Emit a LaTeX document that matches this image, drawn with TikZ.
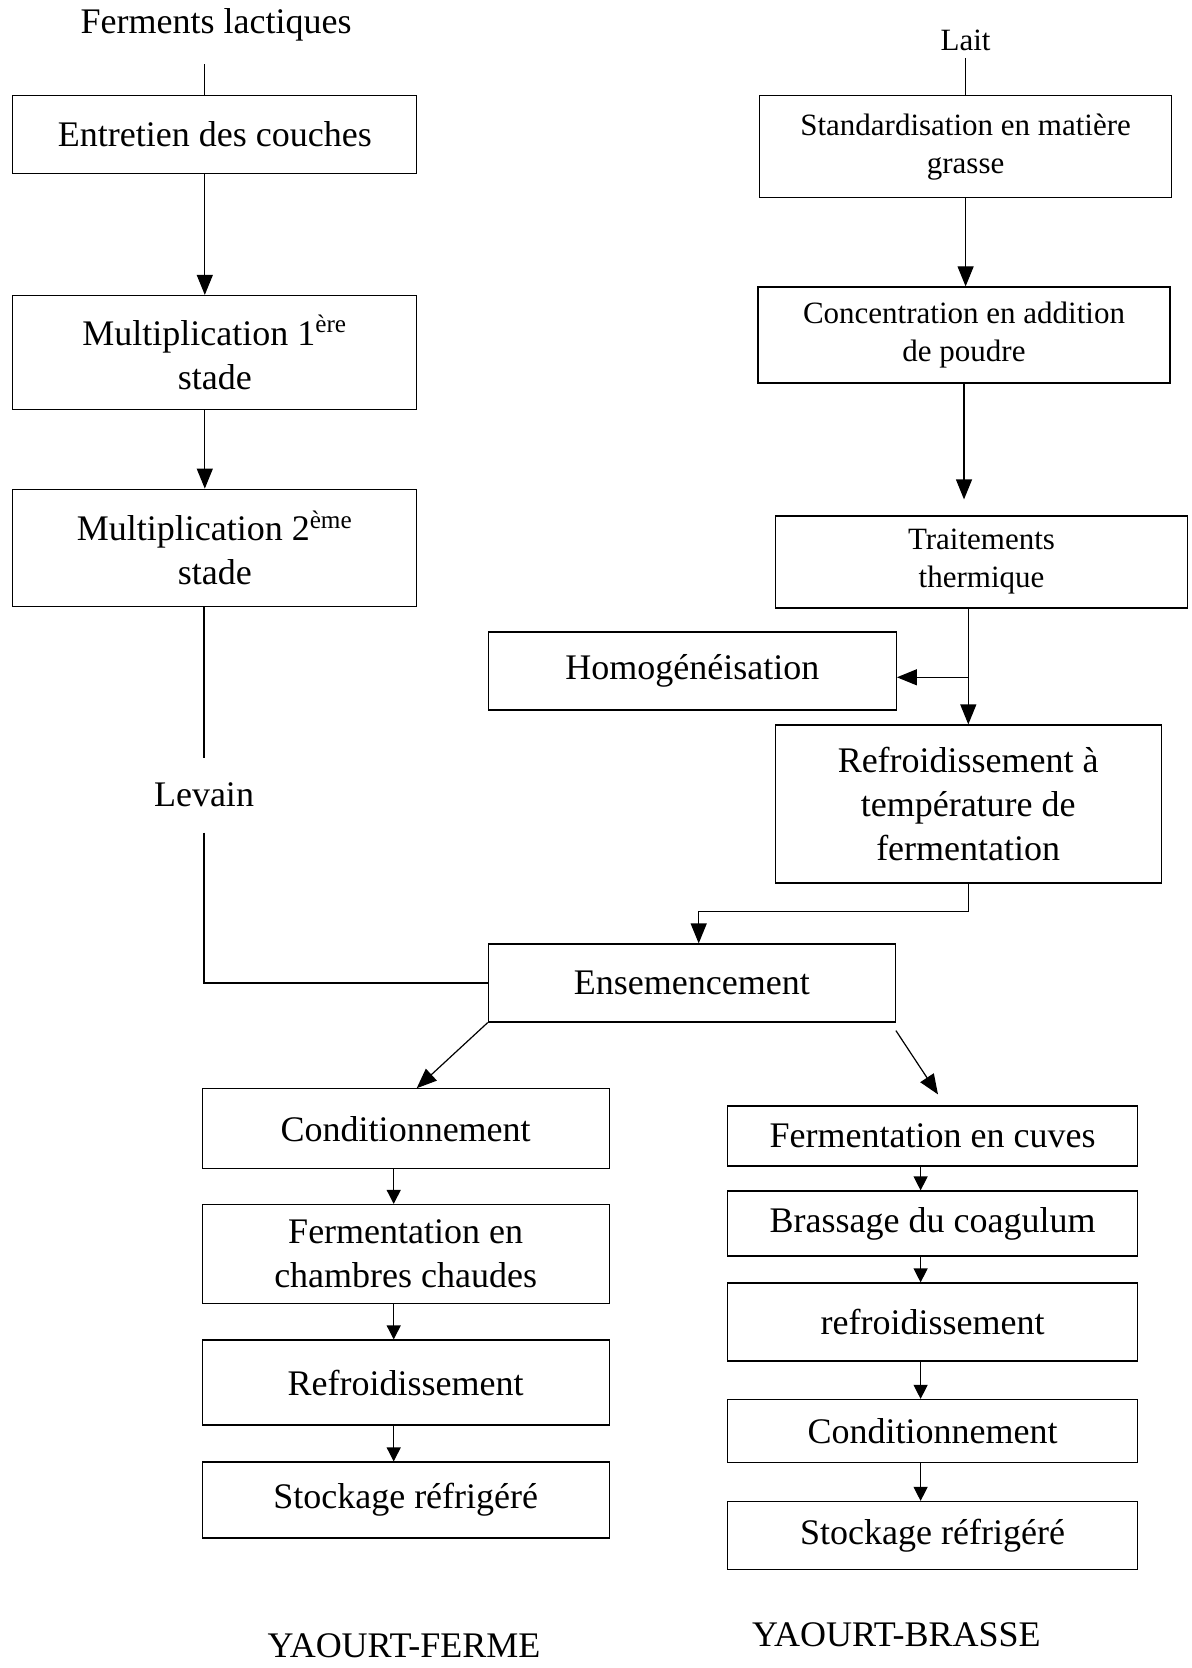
\documentclass[tikz,border=0pt]{standalone}
\usepackage{fontspec}
\setmainfont{Liberation Serif}
\usepackage{tikz}
\usetikzlibrary{arrows.meta}

\newcommand{\grand}{\fontsize{18}{22}\selectfont}
\newcommand{\petit}{\fontsize{15.5}{19}\selectfont}

\tikzset{
  etape/.style = {draw, line width=0.6pt, align=center, inner sep=1pt, font=\grand},
  etapep/.style = {etape, font=\petit},
  fleche/.style = {line width=0.6pt, -{Triangle[length=10pt, width=8pt]}},
  flechep/.style = {line width=0.6pt, -{Triangle[length=7pt, width=7pt]}},
  trait/.style = {line width=0.6pt}
}

\begin{document}
\begin{tikzpicture}[x=0.5pt, y=-0.5pt]
\useasboundingbox (0,0) rectangle (1191,1668);

\node[font=\grand] (ferm) at (216,25) {Ferments lactiques};
\node[etape, minimum width=202pt, minimum height=39pt] (entr) at (214.8,134.5) {Entretien des couches};
\node[etape, minimum width=202pt, minimum height=57pt] (mult1) at (214.8,352.5) {Multiplication 1\textsuperscript{ère}\\stade};
\node[etape, minimum width=202pt, minimum height=58.5pt] (mult2) at (214.8,547.7) {Multiplication 2\textsuperscript{ème}\\stade};
\node[font=\grand, inner ysep=12.5pt] (levain) at (204,795) {Levain};

\node[font=\petit] (lait) at (965.6,40.4) {Lait};
\node[etapep, minimum width=206pt, minimum height=51pt] (stand) at (965.6,146.8) {Standardisation en matière\\grasse};
\node[etapep, minimum width=206pt, minimum height=48pt] (conc) at (964,335) {Concentration en addition\\de poudre};
\node[etapep, minimum width=206pt, minimum height=46pt] (trait) at (981.5,562) {Traitements\\thermique};
\node[etape, minimum width=204pt, minimum height=39pt] (homog) at (692.3,671) {Homogénéisation};
\node[etape, minimum width=193pt, minimum height=79pt] (refr) at (968.2,804) {Refroidissement à\\température de\\fermentation};
\node[etape, minimum width=203.5pt, minimum height=39pt] (ens) at (691.8,983) {Ensemencement};
\coordinate (bif) at (968.3,677.3);
\coordinate (coude) at (698.7,911.3);

\node[etape, minimum width=203.5pt, minimum height=40pt] (cond) at (405.7,1128.8) {Conditionnement};
\node[etape, minimum width=203.5pt, minimum height=49.5pt] (fch) at (405.7,1254) {Fermentation en\\chambres chaudes};
\node[etape, minimum width=203.5pt, minimum height=42.5pt] (refl) at (405.7,1382.5) {Refroidissement};
\node[etape, minimum width=203.5pt, minimum height=38pt] (stockl) at (405.7,1500) {Stockage réfrigéré};
\node[font=\grand] (ferme) at (404,1646) {YAOURT-FERME};

\node[etape, minimum width=205pt, minimum height=30pt] (cuves) at (932.6,1136) {Fermentation en cuves};
\node[etape, minimum width=205pt, minimum height=32.5pt] (brass) at (932.6,1223.5) {Brassage du coagulum};
\node[etape, minimum width=205pt, minimum height=39pt] (refb) at (932.6,1322) {refroidissement};
\node[etape, minimum width=205pt, minimum height=31.5pt] (condb) at (932.6,1431) {Conditionnement};
\node[etape, minimum width=205pt, minimum height=34pt] (stockb) at (932.6,1535.5) {Stockage réfrigéré};
\node[font=\grand] (brasse) at (896.4,1634.4) {YAOURT-BRASSE};

\draw[trait, shorten <=8pt] ([xshift=-5pt]ferm.south -| entr) -- ([xshift=-5pt]entr.north);
\draw[fleche] ([xshift=-5pt]entr.south) -- ([xshift=-5pt]mult1.north);
\draw[fleche] ([xshift=-5pt]mult1.south) -- ([xshift=-5pt]mult2.north);
\draw[trait] (mult2.south -| levain) -- (levain.north);
\draw[trait] (levain.south) |- (ens.west);

\draw[trait] (lait) -- (stand.north -| lait);
\draw[fleche] (stand) -- (stand |- conc.north);
\draw[fleche, shorten >=8pt] (conc.south) -- (conc.south |- trait.north);
\draw[fleche] (trait.south -| bif) -- (bif |- refr.north);
\draw[fleche] (bif) -- (bif -| homog.east);
\draw[fleche] (refr.south) |- (coude) -- (coude |- ens.north);

\draw[fleche] (ens.south west) -- ([xshift=5.5pt]cond.north);
\draw[fleche] ([yshift=-4pt]ens.south east) -- ([xshift=2.7pt, yshift=5.5pt]cuves.north);

\draw[flechep] ([xshift=-6pt]cond.south) -- ([xshift=-6pt]fch.north);
\draw[flechep] ([xshift=-6pt]fch.south) -- ([xshift=-6pt]refl.north);
\draw[flechep] ([xshift=-6pt]refl.south) -- ([xshift=-6pt]stockl.north);

\draw[flechep] ([xshift=-6pt]cuves.south) -- ([xshift=-6pt]brass.north);
\draw[flechep] ([xshift=-6pt]brass.south) -- ([xshift=-6pt]refb.north);
\draw[flechep] ([xshift=-6pt]refb.south) -- ([xshift=-6pt]condb.north);
\draw[flechep] ([xshift=-6pt]condb.south) -- ([xshift=-6pt]stockb.north);
\end{tikzpicture}
\end{document}
